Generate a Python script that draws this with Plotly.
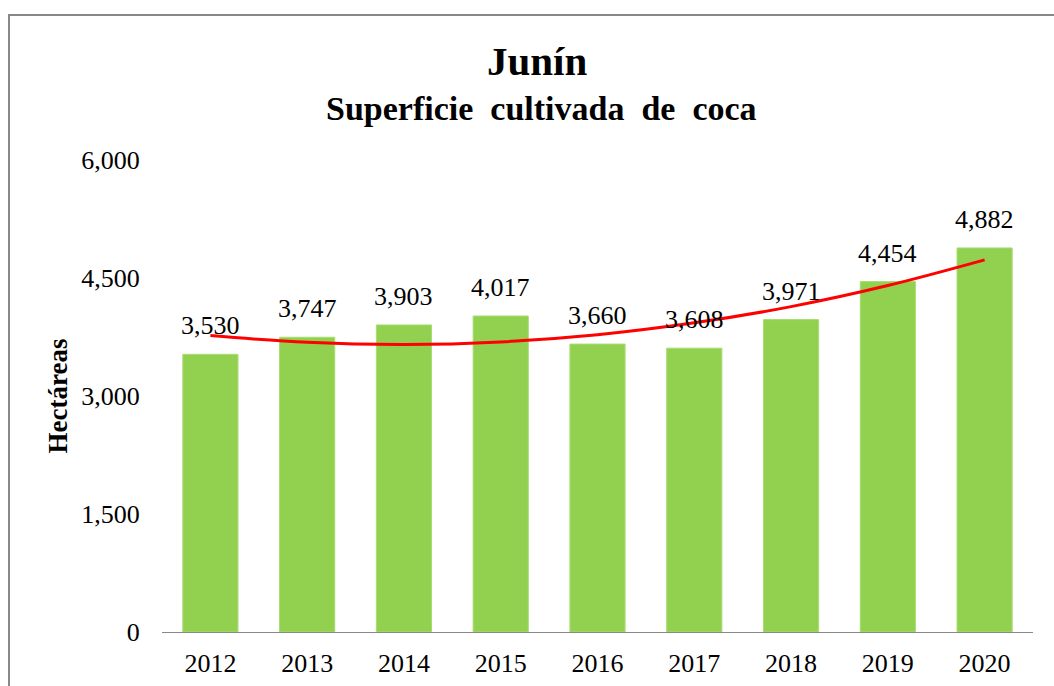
import plotly.graph_objects as go

years = ["2012", "2013", "2014", "2015", "2016", "2017", "2018", "2019", "2020"]
hectareas = [3530, 3747, 3903, 4017, 3660, 3608, 3971, 4454, 4882]
labels = ["3,530", "3,747", "3,903", "4,017", "3,660", "3,608", "3,971", "4,454", "4,882"]
# trend line values (polynomial trend)
tendencia = [3768, 3682, 3654, 3687, 3779, 3930, 4136, 4404, 4730]
y_ticks = [0, 1500, 3000, 4500, 6000]
y_ticktext = ["0", "1,500", "3,000", "4,500", "6,000"]

FONT = "Liberation Serif, Times New Roman, serif"

fig = go.Figure()
fig.add_trace(go.Bar(
    x=years, y=hectareas,
    marker=dict(color="#92D050", line=dict(color="#A8DC72", width=1)),
    showlegend=False, hoverinfo="skip",
))
fig.add_trace(go.Scatter(
    x=years, y=tendencia, mode="lines",
    line=dict(color="#FF0000", width=3, shape="spline", smoothing=1.0),
    showlegend=False, hoverinfo="skip",
))

for i, (v, t) in enumerate(zip(hectareas, labels)):
    fig.add_annotation(
        x=i, y=v, text=t, showarrow=False,
        xanchor="center", yanchor="bottom", yshift=12,
        font=dict(family=FONT, size=26, color="#000000"),
    )

fig.add_annotation(
    xref="paper", yref="paper", x=(537 - 162) / 871, y=(632 - 61) / 472,
    text="<b>Junín</b>", showarrow=False, xanchor="center", yanchor="middle",
    font=dict(family=FONT, size=41, color="#000000"),
)
fig.add_annotation(
    xref="paper", yref="paper", x=(541 - 162) / 871, y=(632 - 108) / 472,
    text="<b>Superficie  cultivada  de  coca</b>", showarrow=False,
    xanchor="center", yanchor="middle",
    font=dict(family=FONT, size=34, color="#000000"),
)

# chart border
fig.add_shape(
    type="rect", xref="paper", yref="paper",
    x0=(9 - 162) / 871, x1=1.2, y0=-0.3, y1=(632 - 15) / 472,
    line=dict(color="#888888", width=2), fillcolor="rgba(0,0,0,0)", layer="below",
)

fig.update_layout(
    width=1054, height=686,
    margin=dict(l=162, r=21, t=160, b=54, autoexpand=False),
    paper_bgcolor="white", plot_bgcolor="white",
    bargap=0.43,
    font=dict(family=FONT, size=26, color="#000000"),
    xaxis=dict(
        type="category", range=[-0.5, 8.5], autorange=False, automargin=False,
        showgrid=False, showline=True, linecolor="#888888", linewidth=1,
        ticks="outside", ticklen=8, tickcolor="rgba(0,0,0,0)",
        tickfont=dict(family=FONT, size=26, color="#000000"), zeroline=False,
    ),
    yaxis=dict(
        range=[0, 6000], autorange=False, automargin=False,
        tickvals=y_ticks, ticktext=y_ticktext,
        showgrid=False, showline=False, zeroline=False,
        ticks="outside", ticklen=16, tickcolor="rgba(0,0,0,0)",
        tickfont=dict(family=FONT, size=26, color="#000000"),
        title=dict(text="<b>Hectáreas</b>", font=dict(family=FONT, size=27, color="#000000"), standoff=5),
    ),
)

fig.write_html(
    "out.html",
    config={"displayModeBar": False},
    post_script="document.body.style.margin='0';document.body.style.overflow='hidden';",
)
